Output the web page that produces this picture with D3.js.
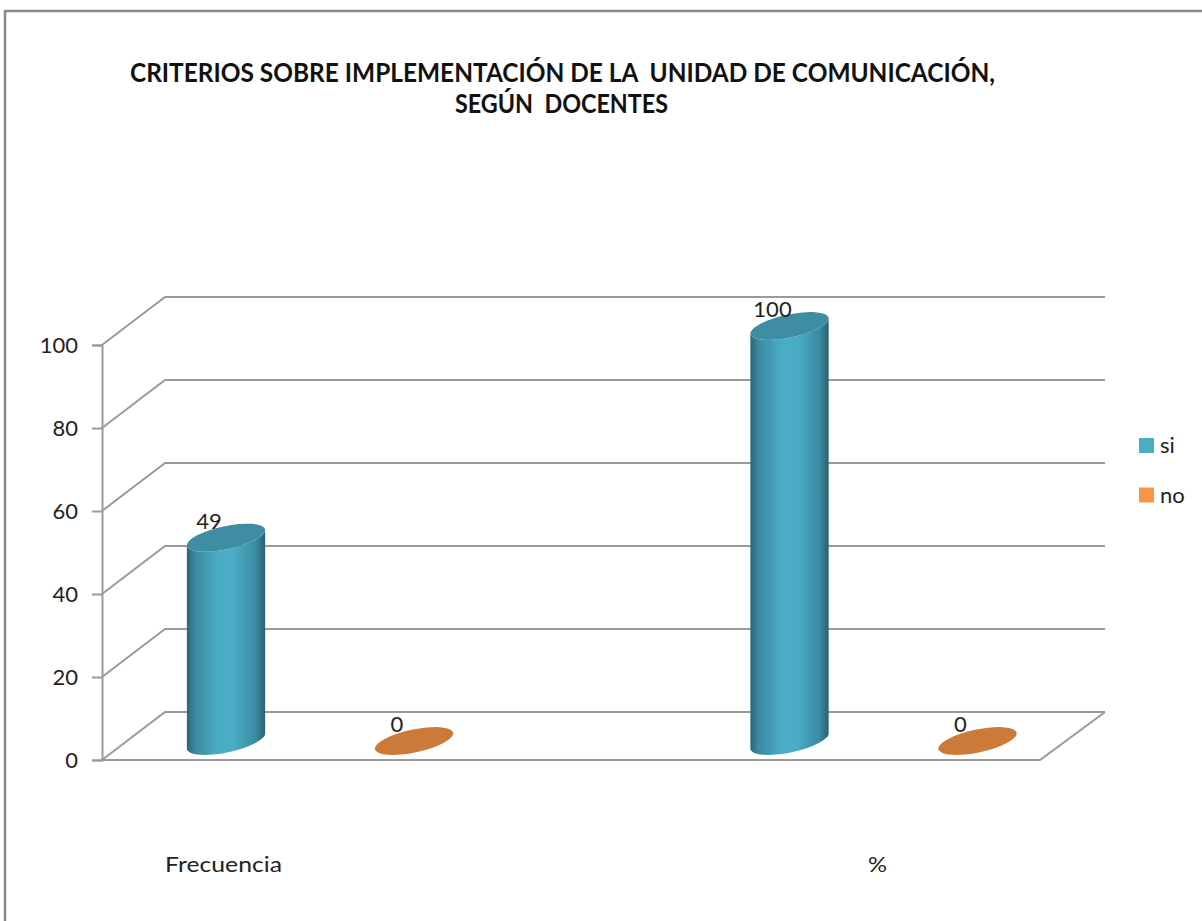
<!DOCTYPE html>
<html><head><meta charset="utf-8">
<script src="https://cdn.jsdelivr.net/npm/d3@7"></script>
<style>html,body{margin:0;padding:0;background:#fff;}svg{display:block;}</style>
</head><body>
<script>
const categories = ["Frecuencia", "%"];
const seriesNames = ["si", "no"];
const siValues = [49, 100];
const noValues = [0, 0];
const yTicks = [0, 20, 40, 60, 80, 100];
const titleLines = ["CRITERIOS SOBRE IMPLEMENTACIÓN DE LA  UNIDAD DE COMUNICACIÓN,", "SEGÚN  DOCENTES"];

const W = 1202, H = 921;
const FONT = "Lato, 'Open Sans', sans-serif";
const svg = d3.select("body").append("svg").attr("width", W).attr("height", H);
const defs = svg.append("defs");

// frame
svg.append("rect").attr("x", 5).attr("y", 11).attr("width", 1220).attr("height", 940)
  .attr("fill", "none").attr("stroke", "#8a8a8a").attr("stroke-width", 2.5);

// title
const tPos = [[130, 82, 865], [455, 113, 213]];
svg.selectAll("text.title").data(titleLines).join("text")
  .attr("class", "title")
  .attr("x", (d, i) => tPos[i][0])
  .attr("y", (d, i) => tPos[i][1])
  .attr("textLength", (d, i) => tPos[i][2]).attr("lengthAdjust", "spacingAndGlyphs")
  .style("font-family", FONT).style("font-weight", "bold")
  .style("font-size", "26px").style("white-space", "pre").attr("fill", "#111").text(d => d);

// scales
const y = d3.scaleLinear().domain([0, 100]).range([760, 345]);
const depth = { dx: 63, dy: -48 };
const axisX = 102, floorRightFront = 1040, backRight = 1105;
const x = d3.scaleBand().domain(categories).range([38.25, 1165.25]);
const xs = d3.scaleBand().domain(seriesNames).range([-188, 188]);
const barDepthY = -19;
const rx = 40, ry = 11.5, rot = -12;

const gridColor = "#9a9a9a";
const grid = svg.append("g");
yTicks.forEach(v => {
  const fy = y(v);
  const pts = [[axisX, fy], [axisX + depth.dx, fy + depth.dy], [backRight, fy + depth.dy]];
  grid.append("path").attr("d", d3.line()(pts)).attr("fill", "none")
    .attr("stroke", gridColor).attr("stroke-width", 2);
});
grid.append("path").attr("d", d3.line()([[axisX, y(0)], [floorRightFront, y(0)], [backRight, y(0) + depth.dy]]))
  .attr("fill", "none").attr("stroke", gridColor).attr("stroke-width", 2);

// y axis
const axisG = svg.append("g").attr("transform", `translate(${axisX},0)`)
  .call(d3.axisLeft(y).tickValues(yTicks).tickSize(10).tickPadding(14));
axisG.select(".domain").attr("stroke", gridColor).attr("stroke-width", 2);
axisG.selectAll(".tick line").attr("stroke", gridColor).attr("stroke-width", 2);
axisG.selectAll(".tick text").attr("fill", "#222")
  .style("font-family", FONT).style("font-size", "22px")
  .attr("dy", "0.36em");

// gradients
const grad = defs.append("linearGradient").attr("id", "cyl").attr("x1", 0).attr("x2", 1).attr("y1", 0).attr("y2", 0);
[["0%", "#2a6577"], ["10%", "#3a8aa0"], ["40%", "#4bacc6"], ["60%", "#4bacc6"], ["88%", "#3a8ba1"], ["100%", "#28606f"]]
  .forEach(([o, c]) => grad.append("stop").attr("offset", o).attr("stop-color", c));

const th = rot * Math.PI / 180;
const ex = rx * Math.cos(th), ey = rx * Math.sin(th);

const data = [];
categories.forEach((c, i) => {
  data.push({ cat: c, s: "si", v: siValues[i] });
  data.push({ cat: c, s: "no", v: noValues[i] });
});

const bars = svg.append("g");
data.forEach(d => {
  const cx = x(d.cat) + x.bandwidth() / 2 + xs(d.s) + xs.bandwidth() / 2;
  const by = y(0) + barDepthY;
  const ty = y(d.v) + barDepthY;
  if (d.v > 0) {
    const lx = cx - ex, rxp = cx + ex;
    const body = `M${lx},${ty - ey} L${lx},${by - ey} A${rx},${ry} ${rot} 0 0 ${rxp},${by + ey} L${rxp},${ty + ey} A${rx},${ry} ${rot} 0 1 ${lx},${ty - ey} Z`;
    bars.append("path").attr("d", body).attr("fill", "url(#cyl)");
    bars.append("ellipse").attr("cx", 0).attr("cy", 0).attr("rx", rx).attr("ry", ry)
      .attr("transform", `translate(${cx},${ty}) rotate(${rot})`).attr("fill", "#3f8da3");
  } else {
    bars.append("ellipse").attr("cx", 0).attr("cy", 0).attr("rx", rx).attr("ry", ry)
      .attr("transform", `translate(${cx},${ty}) rotate(${rot})`).attr("fill", "#cc7a3a");
  }
  bars.append("text").attr("x", cx - 17).attr("y", ty - 9).attr("text-anchor", "middle")
    .style("font-family", FONT).style("font-size", "22px")
    .attr("fill", "#222").text(d.v);
});

// category labels
const catPos = { "Frecuencia": [165, "start", 117], "%": [868, "start", 19] };
svg.selectAll("text.cat").data(categories).join("text").attr("class", "cat")
  .attr("x", d => catPos[d][0]).attr("y", 872).attr("text-anchor", d => catPos[d][1])
  .attr("textLength", d => catPos[d][2]).attr("lengthAdjust", "spacingAndGlyphs")
  .style("font-family", FONT).style("font-size", "22px")
  .attr("fill", "#222").text(d => d);

// legend
const legColors = { si: "#4bacc6", no: "#f79646" };
const leg = svg.append("g");
seriesNames.forEach((s, i) => {
  const gy = 438 + i * 49.5;
  leg.append("rect").attr("x", 1139).attr("y", gy).attr("width", 15).attr("height", 15).attr("fill", legColors[s]);
  leg.append("text").attr("x", 1160).attr("y", gy + 15).style("font-family", FONT)
    .style("font-size", "22px").attr("fill", "#222").text(s);
});
</script>
</body></html>
